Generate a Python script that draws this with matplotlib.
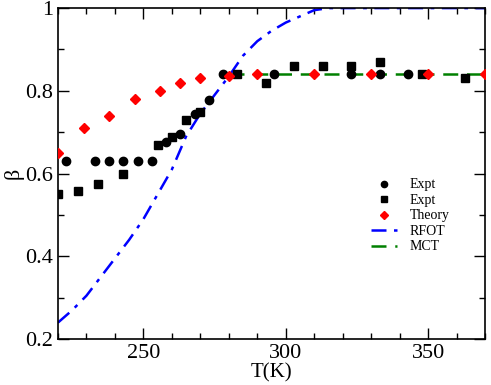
import numpy as np
import matplotlib
matplotlib.use("Agg")
import matplotlib.pyplot as plt
from matplotlib.ticker import MultipleLocator

plt.rcParams['font.family'] = ['Liberation Serif', 'DejaVu Serif']

# experiment, set 1 (circles)
t_circ = [223, 233, 238, 243, 248, 253, 258, 263, 268, 273, 278, 296, 323, 333, 343]
b_circ = [0.63, 0.63, 0.63, 0.63, 0.63, 0.63, 0.677, 0.695, 0.745, 0.779, 0.841,
          0.84, 0.84, 0.84, 0.84]

# experiment, set 2 (squares)
t_sq = [220, 227, 234, 243, 255, 260, 265, 270, 283, 293, 303, 313, 323, 333, 348, 363]
b_sq = [0.55, 0.558, 0.575, 0.60, 0.668, 0.688, 0.729, 0.749, 0.84, 0.82, 0.86,
        0.86, 0.86, 0.87, 0.84, 0.83]

# theory (diamonds)
t_th = [220, 229, 238, 247, 256, 263, 270, 280, 290, 310, 330, 350, 370]
b_th = [0.65, 0.71, 0.74, 0.78, 0.80, 0.82, 0.83, 0.835, 0.84, 0.84, 0.84, 0.84, 0.84]

# RFOT curve
t_rfot = [220, 225, 230, 235, 240, 245, 250, 255, 260, 265, 270, 275, 280, 285,
          290, 295, 300, 305, 310, 315, 370]
b_rfot = [0.24, 0.27, 0.305, 0.35, 0.395, 0.44, 0.49, 0.55, 0.61, 0.69, 0.745,
          0.79, 0.835, 0.885, 0.92, 0.945, 0.965, 0.98, 0.995, 1.0, 1.0]

# MCT line
t_mct = [280, 370]
b_mct = [0.84, 0.84]

fig = plt.figure(figsize=(4.91, 3.85), dpi=100)
ax = fig.add_axes([0.118, 0.119, 0.870, 0.860])

ax.plot(t_circ, b_circ, 'o', color='black', ms=6, ls='none', label='Expt', zorder=4)
ax.plot(t_sq, b_sq, 's', color='black', ms=5.5, ls='none', label='Expt', zorder=4)
ax.plot(t_th, b_th, 'D', color='red', ms=5, ls='none', label='Theory', zorder=5)
ax.plot(t_rfot, b_rfot, color='blue', lw=1.8, dashes=[6, 3, 1.5, 3], label='RFOT', zorder=2)
ax.plot(t_mct, b_mct, color='green', lw=1.8, dashes=[6, 3.5], label='MCT', zorder=3)

ax.set_xlim(220, 370)
ax.set_ylim(0.2, 1.0)
ax.xaxis.set_major_locator(MultipleLocator(50))
ax.xaxis.set_minor_locator(MultipleLocator(10))
ax.yaxis.set_minor_locator(MultipleLocator(0.1))
ax.set_yticks([0.2, 0.4, 0.6, 0.8, 1.0])
ax.set_yticklabels(['0.2', '0.4', '0.6', '0.8', '1'])

ax.tick_params(which='both', direction='in', top=True, right=True, labelsize=16)
ax.tick_params(which='major', length=8, width=1)
ax.tick_params(which='minor', length=4, width=1)
for s in ax.spines.values():
    s.set_linewidth(1.2)

ax.set_xlabel('T(K)', fontsize=15, labelpad=0)
ax.set_ylabel('β', fontsize=16, labelpad=1)

ax.legend(loc='upper left', bbox_to_anchor=(0.71, 0.515), frameon=False,
          fontsize=10, handlelength=1.9, handletextpad=0.9, labelspacing=0.18,
          borderpad=0.2, markerscale=0.75)

fig.savefig('out.png', dpi=100)
